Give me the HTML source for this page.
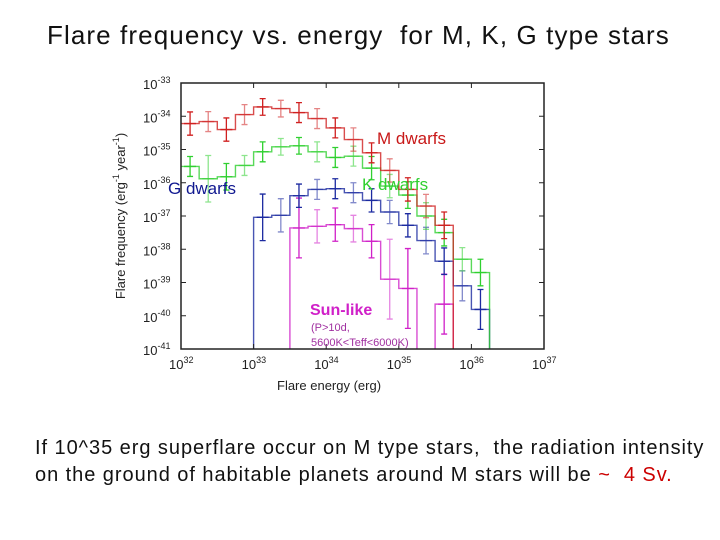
<!DOCTYPE html>
<html><head><meta charset="utf-8"><style>
body{margin:0;background:#fff;width:720px;height:540px;overflow:hidden;font-family:"Liberation Sans",sans-serif}
.t{position:absolute;white-space:nowrap}
</style></head><body>
<div class="t" style="left:47px;top:20px;font-size:26px;letter-spacing:1.1px;color:#111">Flare frequency vs. energy&nbsp; for M, K, G type stars</div>
<svg id="chart" width="720" height="540" style="position:absolute;left:0;top:0" xmlns="http://www.w3.org/2000/svg"></svg>
<div class="t" style="left:35px;top:437px;font-size:20px;letter-spacing:0.95px;color:#111">If 10^35 erg superflare occur on M type stars,&nbsp; the radiation intensity</div>
<div class="t" style="left:35px;top:464px;font-size:20px;letter-spacing:0.95px;color:#111">on the ground of habitable planets around M stars will be <span style="color:#c00">~&nbsp; 4 Sv.</span></div>
<script>
const binStart = [32.0,32.0,33.0,33.5];
const binWidth = 0.25;
const mVals = [-34.22,-34.16,-34.4,-33.95,-33.72,-33.77,-33.89,-34.07,-34.35,-34.7,-35.1,-35.63,-36.2,-36.7,-37.28];
const kVals = [-35.51,-35.88,-35.82,-35.48,-35.07,-34.92,-34.89,-35.07,-35.24,-35.2,-35.56,-36.1,-36.37,-37.0,-37.5,-38.3,-38.7];
const gVals = [-37.04,-36.98,-36.39,-36.2,-36.18,-36.3,-36.53,-36.88,-37.28,-37.74,-38.36,-39.1,-39.81];
const sVals = [-37.36,-37.31,-37.26,-37.38,-37.76,-38.9,-39.18,null,-39.65];
const mErr = [0.35,0.3,0.35,0.3,0.25,0.25,0.3,0.3,0.3,0.35,0.3,0.35,0.35,0.35,0.4];
const kErr = [0.3,0.7,0.4,0.3,0.3,0.25,0.25,0.3,0.3,0.3,0.35,0.35,0.4,0.4,0.4,0.35,0.4];
const gErr = [0.7,0.5,0.35,0.3,0.3,0.3,0.35,0.35,0.35,0.4,0.4,0.45,0.6];
const sErr = [0.9,0.5,0.5,0.4,0.5,1.2,1.2,null,0.9];
const xTicks = [32,33,34,35,36,37];
const yTicks = [-33,-34,-35,-36,-37,-38,-39,-40,-41];
const X0=181,X1=544,Y0=83,Y1=349;
const xs = v => X0+(v-32)/5*(X1-X0);
const ys = v => Y0+(-33-v)/8*(Y1-Y0);
const svg=document.getElementById('chart');
const NS='http://www.w3.org/2000/svg';
function mk(tag,attrs,parent){const e=document.createElementNS(NS,tag);for(const k in attrs)e.setAttribute(k,attrs[k]);(parent||svg).appendChild(e);return e;}
function series(vals,errs,start,color,name){
  const g=mk('g',{});
  
  
  let d='';let prevNull=true;
  vals.forEach((v,i)=>{
    const a=xs(start+i*binWidth),b=xs(start+(i+1)*binWidth);
    if(v===null){ if(!prevNull) d+='L'+a+','+Y1; prevNull=true; return; }
    const y=ys(v);
    if(prevNull){ if(start+i*binWidth>32) d+='M'+a+','+Y1+'L'+a+','+y; else d+='M'+a+','+y; } else d+='L'+a+','+y;
    d+='L'+b+','+y; prevNull=false;
    const c=(a+b)/2,e=errs[i];
    const op=i%2?0.55:1;
    const eb=mk('path',{d:'M'+c+','+ys(v+e)+'V'+ys(v-e)+'M'+(c-3)+','+ys(v+e)+'h6M'+(c-3)+','+ys(v-e)+'h6M'+(c-6)+','+y+'h12',stroke:color,'stroke-width':1.3,fill:'none',opacity:op},g);
    
    
  });
  if(!prevNull) d+='L'+xs(start+vals.length*binWidth)+','+Y1;
  const p=mk('path',{d:d,stroke:color,'stroke-width':1.4,fill:'none',opacity:0.8},g);
  
  
}
series(sVals,sErr,binStart[3],'#d020c8','sun-like-series');
series(gVals,gErr,binStart[2],'#1c2aa0','g-dwarfs-series');
series(kVals,kErr,binStart[1],'#30d030','k-dwarfs-series');
series(mVals,mErr,binStart[0],'#d02020','m-dwarfs-series');
const frame=mk('rect',{x:X0,y:Y0,width:X1-X0,height:Y1-Y0,fill:'none',stroke:'#222','stroke-width':1.5});


xTicks.forEach(t=>{
  const x=xs(t);
  mk('line',{x1:x,x2:x,y1:Y1,y2:Y1-5,stroke:'#222'});
  mk('line',{x1:x,x2:x,y1:Y0,y2:Y0+5,stroke:'#222'});
  const tx=mk('text',{x:x-12,y:Y1+20,'font-size':13,fill:'#222'});
  
  
  tx.innerHTML='10<tspan dy="-6" font-size="9">'+t+'</tspan>';
});
yTicks.forEach(t=>{
  const y=ys(t);
  mk('line',{x1:X0,x2:X0+5,y1:y,y2:y,stroke:'#222'});
  mk('line',{x1:X1,x2:X1-5,y1:y,y2:y,stroke:'#222'});
  const tx=mk('text',{x:143,y:y+6,'font-size':13,fill:'#222'});
  
  
  tx.innerHTML='10<tspan dy="-6" font-size="9">'+t+'</tspan>';
});
function label(x,y,txt,size,color,name,extra){const t=mk('text',Object.assign({x:x,y:y,'font-size':size,fill:color},extra||{}));t.textContent=txt;return t;}
label(377,144,'M dwarfs',17,'#c81818','m-dwarfs-label');
label(362,190,'K dwarfs',17,'#30d030','k-dwarfs-label');
label(168,194,'G dwarfs',17,'#101890','g-dwarfs-label');
label(310,315,'Sun-like',16,'#d020c8','sun-like-label',{'font-weight':'bold'});
label(311,331,'(P>10d,',11,'#a030a0','sun-like-note-1');
label(311,346,'5600K<Teff<6000K)',11,'#a030a0','sun-like-note-2');
label(277,390,'Flare energy (erg)',13,'#222','x-axis-title');
const yt=label(0,0,'',13,'#222','y-axis-title',{transform:'translate(125,216) rotate(-90)','text-anchor':'middle'});
yt.innerHTML='Flare frequency (erg<tspan dy="-6" font-size="9">-1</tspan><tspan dy="6"> year</tspan><tspan dy="-6" font-size="9">-1</tspan><tspan dy="6">)</tspan>';
</script>
</body></html>
